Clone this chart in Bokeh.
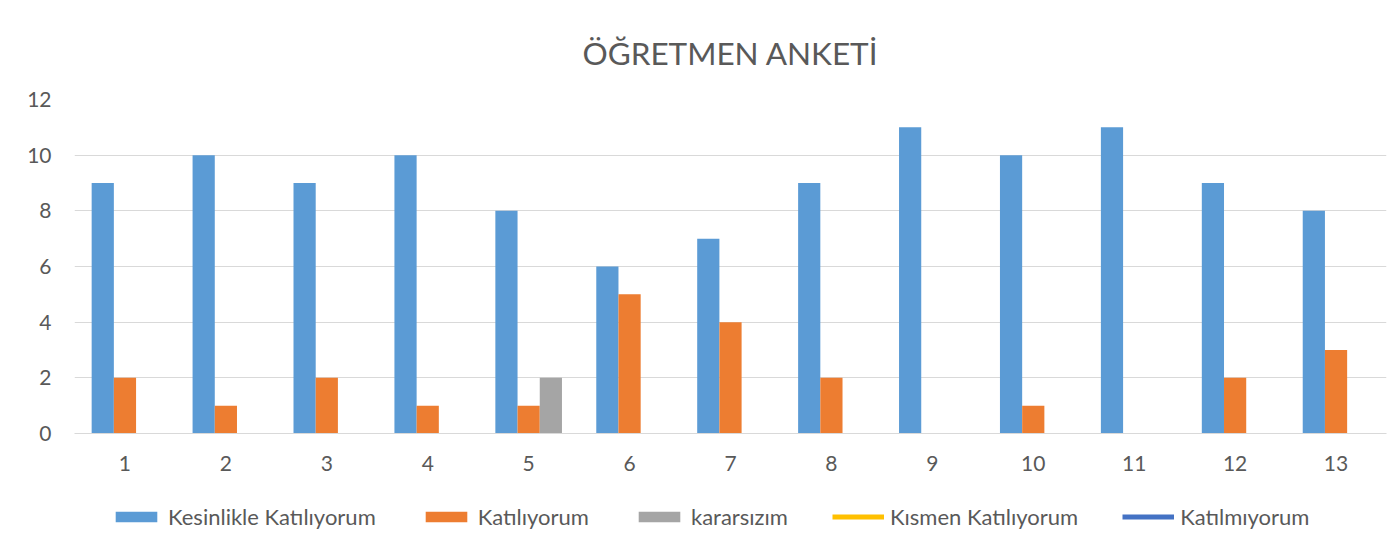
from bokeh.plotting import figure
from bokeh.models import Range1d, FactorRange, Legend, LegendItem
from bokeh.layouts import column
from bokeh.transform import dodge
from bokeh.embed import file_html
from bokeh.resources import INLINE

categories = [str(i) for i in range(1, 14)]
kesinlikle = [9, 10, 9, 10, 8, 6, 7, 9, 11, 10, 11, 9, 8]
katiliyorum = [2, 1, 2, 1, 1, 5, 4, 2, 0, 1, 0, 2, 3]
kararsizim = [0, 0, 0, 0, 2, 0, 0, 0, 0, 0, 0, 0, 0]
series_names = ["Kesinlikle Katılıyorum", "Katılıyorum", "kararsızım",
                "Kısmen Katılıyorum", "Katılmıyorum"]
colors = ["#5B9BD5", "#ED7D31", "#A5A5A5", "#FFC000", "#4472C4"]
title_text = "ÖĞRETMEN ANKETİ"
FONT = "Lato"
TXT = "#595959"

p = figure(width=1390, height=488, x_range=FactorRange(*categories, range_padding=0),
           y_range=Range1d(0, 12), output_backend="svg", toolbar_location=None,
           min_border_left=74, min_border_right=4, min_border_top=99, min_border_bottom=55)

data = dict(cat=categories, a=kesinlikle, b=katiliyorum, c=kararsizim)
w = 0.22
p.vbar(x=dodge("cat", -w, range=p.x_range), top="a", width=w, source=data,
       fill_color=colors[0], line_color=None)
p.vbar(x=dodge("cat", 0, range=p.x_range), top="b", width=w, source=data,
       fill_color=colors[1], line_color=None)
p.vbar(x=dodge("cat", w, range=p.x_range), top="c", width=w, source=data,
       fill_color=colors[2], line_color=None)

p.title.text = title_text
p.title.align = "center"
p.title.text_font = FONT
p.title.text_font_size = "31.5px"
p.title.text_font_style = "normal"
p.title.text_color = TXT
p.title.standoff = 55

p.outline_line_color = None
p.xgrid.grid_line_color = None
p.ygrid.grid_line_color = "#D9D9D9"
p.yaxis.ticker = [0, 2, 4, 6, 8, 10, 12]
p.yaxis.axis_line_color = None
p.yaxis.major_tick_line_color = None
p.yaxis.minor_tick_line_color = None
p.yaxis.major_label_standoff = 17
p.xaxis.axis_line_color = "#D9D9D9"
p.xaxis.major_tick_line_color = None
p.xaxis.major_label_standoff = 16
for ax in (p.xaxis, p.yaxis):
    ax.major_label_text_font = FONT
    ax.major_label_text_font_size = "21px"
    ax.major_label_text_color = TXT

# legend-only strip
lg = figure(width=1390, height=60, x_range=Range1d(0, 1), y_range=Range1d(0, 1),
            output_backend="svg", toolbar_location=None,
            x_axis_location=None, y_axis_location=None,
            min_border_left=0, min_border_right=0, min_border_top=0, min_border_bottom=0)
lg.grid.grid_line_color = None
lg.outline_line_color = None
nan = float("nan")
rs = [lg.vbar(x=[nan], top=[nan], width=0.1, fill_color=colors[i], line_color=None)
      for i in range(3)]
rs += [lg.line(x=[nan, nan], y=[nan, nan], line_color=colors[i], line_width=5)
       for i in (3, 4)]
legend = Legend(items=[LegendItem(label=n, renderers=[r]) for n, r in zip(series_names, rs)],
                orientation="horizontal", location=(36, 18),
                glyph_width=52, glyph_height=13, label_standoff=6, spacing=44,
                label_text_font=FONT, label_text_font_size="22px",
                label_text_color=TXT, border_line_color=None, margin=0, padding=0,
                background_fill_alpha=0)
lg.add_layout(legend, "center")

layout = column(p, lg, spacing=0)
open("out.html", "w").write(file_html(layout, INLINE))
